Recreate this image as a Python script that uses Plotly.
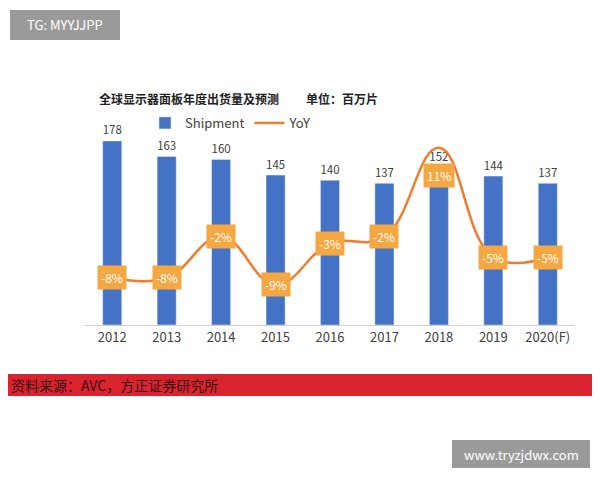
import plotly.graph_objects as go

years = ["2012", "2013", "2014", "2015", "2016", "2017", "2018", "2019", "2020(F)"]
shipment = [178, 163, 160, 145, 140, 137, 152, 144, 137]
yoy = [-8, -8, -2, -9, -3, -2, 11, -5, -5]
yoy_labels = ["-8%", "-8%", "-2%", "-9%", "-3%", "-2%", "11%", "-5%", "-5%"]

BLUE = "#4472C4"
ORANGE = "#ED7D31"
W, H, OFF = 600, 480, 8  # page puts the figure 8px in from the corner
idx = list(range(len(years)))


def px(x):
    return (x - OFF) / W


def py(y):
    return 1 - (y - OFF) / H


fig = go.Figure()
fig.add_trace(go.Bar(x=idx, y=shipment, name="Shipment", marker_color=BLUE, width=0.35,
                     text=[str(v) for v in shipment], textposition="outside",
                     textfont=dict(size=13, color="#404040"), cliponaxis=False))
fig.add_trace(go.Scatter(x=idx, y=yoy, name="YoY", yaxis="y2", mode="lines",
                         line=dict(color=ORANGE, width=2.5, shape="spline", smoothing=1.2)))

for x, y, t in zip(idx, yoy, yoy_labels):
    # the peak label sits well below the line's crest in the source
    fig.add_annotation(x=x, y=y, xref="x", yref="y2", text=t, showarrow=False,
                       bgcolor="#F5A742", font=dict(color="white", size=12),
                       borderpad=3, yshift=-28 if y > 5 else 0)

# watermark boxes and source band
fig.add_shape(type="rect", xref="paper", yref="paper", x0=px(10), x1=px(120),
              y0=py(40), y1=py(10), fillcolor="#9a9a9a", line_width=0, layer="below")
fig.add_shape(type="rect", xref="paper", yref="paper", x0=px(0), x1=1,
              y0=py(396), y1=py(374), fillcolor="#D9232E", line_width=0, layer="below")
fig.add_shape(type="rect", xref="paper", yref="paper", x0=px(452), x1=px(590),
              y0=py(468), y1=py(440), fillcolor="#9a9a9a", line_width=0, layer="below")

texts = [
    (px(65), py(25), "center", "TG: MYYJJPP", dict(color="white", size=13)),
    (px(9), py(385), "left", "资料来源：AVC，方正证券研究所", dict(color="#3a1010", size=14)),
    (px(521), py(454), "center", "www.tryzjdwx.com", dict(color="white", size=13)),
    (px(97), py(98), "left",
     "<b>全球显示器面板年度出货量及预测</b>          <b>单位：百万片</b>",
     dict(color="#222", size=12)),
]
for x, y, anchor, t, f in texts:
    fig.add_annotation(xref="paper", yref="paper", x=x, y=y, xanchor=anchor,
                       yanchor="middle", text=t, showarrow=False, font=f)

fig.update_layout(
    width=W, height=H, margin=dict(l=0, r=0, t=0, b=0),
    paper_bgcolor="white", plot_bgcolor="white",
    font=dict(family="Noto Sans CJK SC", color="#404040"),
    showlegend=True,
    legend=dict(orientation="h", x=px(145), y=py(123), yanchor="middle",
                font=dict(size=13, color="#404040"), bgcolor="rgba(0,0,0,0)"),
    xaxis=dict(domain=[px(85), px(575)], range=[-0.5, len(years) - 0.5], anchor="y",
               tickvals=idx, ticktext=years, showline=True, showgrid=False, zeroline=False,
               linecolor="#d0d0d0", tickfont=dict(size=13, color="#404040"), ticks=""),
    yaxis=dict(domain=[py(325), py(130)], range=[0, 188.6], visible=False),
    yaxis2=dict(overlaying="y", range=[-14.9, 13.6], visible=False),
    bargap=0.5,
)

fig.write_html("out.html")
